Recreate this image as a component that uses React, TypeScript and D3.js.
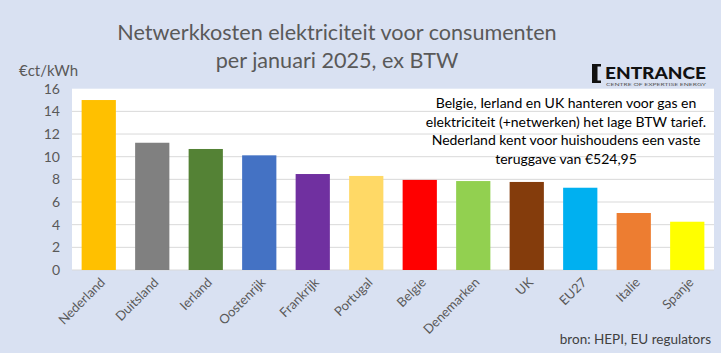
import React from 'react';
import * as d3 from 'd3';

const countries = ['Nederland', 'Duitsland', 'Ierland', 'Oostenrijk', 'Frankrijk', 'Portugal', 'Belgie', 'Denemarken', 'UK', 'EU27', 'Italie', 'Spanje'];
const costs = [15.0, 11.23, 10.68, 10.12, 8.47, 8.3, 7.95, 7.85, 7.77, 7.26, 5.03, 4.26];
const barColors = ['#FFC000', '#808080', '#548235', '#4472C4', '#7030A0', '#FFD966', '#FF0000', '#92D050', '#843C0C', '#00B0F0', '#ED7D31', '#FFFF00'];
const yTicks = [0, 2, 4, 6, 8, 10, 12, 14, 16];
const noteLines = [
  'Belgie, Ierland en UK hanteren voor gas en',
  'elektriciteit (+netwerken) het lage BTW tarief.',
  'Nederland kent voor huishoudens een vaste',
  'teruggave van €524,95',
];

const W = 721;
const H = 353;
const font = 'Lato, "Open Sans", sans-serif';

const App = () => {
  const plot = { left: 72, right: 714, top: 88.7, bottom: 270 };

  const x = d3.scaleBand().domain(countries).range([plot.left, plot.right]).paddingInner(0.36).paddingOuter(0.18);
  const y = d3.scaleLinear().domain([0, 16]).range([plot.bottom, plot.top]);

  return (
    <svg width={W} height={H} style={{ position: 'absolute', left: 0, top: 0, fontFamily: font }}>
      <rect width={W} height={H} fill="#D9E1F2" />
      <rect x={plot.left} y={plot.top} width={plot.right - plot.left} height={plot.bottom - plot.top} fill="#fff" />

      {yTicks.map(t => (
        <g key={t}>
          {t > 0 && t < 16 && (
            <line x1={plot.left} x2={plot.right} y1={y(t)} y2={y(t)} stroke="#D9D9D9" strokeWidth={1} />
          )}
          <text x={60} y={y(t)} dy="0.35em" textAnchor="end" fontSize={14} fill="#595959">{t}</text>
        </g>
      ))}
      <line x1={plot.left} x2={plot.right} y1={y(0)} y2={y(0)} stroke="#D9D9D9" strokeWidth={1} />

      {countries.map((c, i) => (
        <rect key={c} x={x(c)} y={y(costs[i])} width={x.bandwidth()} height={y(0) - y(costs[i])} fill={barColors[i]} />
      ))}

      {countries.map(c => {
        const cx = (x(c) ?? 0) + x.bandwidth() / 2 + 4;
        return (
          <text key={c} transform={`translate(${cx},${plot.bottom + 10}) rotate(-45)`} textAnchor="end" dy="0.35em" fontSize={13} fill="#595959">
            {c}
          </text>
        );
      })}

      <text x={337} y={40} textAnchor="middle" fontSize={21.6} fill="#595959">Netwerkkosten elektriciteit voor consumenten</text>
      <text x={337} y={68} textAnchor="middle" fontSize={21.6} fill="#595959">per januari 2025, ex BTW</text>
      <text x={19} y={76} fontSize={15} fill="#595959">€ct/kWh</text>

      {noteLines.map((l, i) => (
        <text key={i} x={566} y={108 + i * 18.5} textAnchor="middle" fontSize={14} fill="#000">{l}</text>
      ))}

      {/* logo */}
      <path d="M592,64 h9 v2.5 h-3.5 v14 h3.5 v2.5 h-9 z" fill="#111" />
      <text x={605} y={79} fontSize={17} fontWeight={900} fill="#111" textLength={101} lengthAdjust="spacingAndGlyphs">ENTRANCE</text>
      <text x={606} y={86} fontSize={4.5} fill="#555" textLength={100} lengthAdjust="spacingAndGlyphs">CENTRE OF EXPERTISE ENERGY</text>

      <text x={711} y={344} textAnchor="end" fontSize={13.5} fill="#404040">bron: HEPI, EU regulators</text>
    </svg>
  );
};

export default App;
